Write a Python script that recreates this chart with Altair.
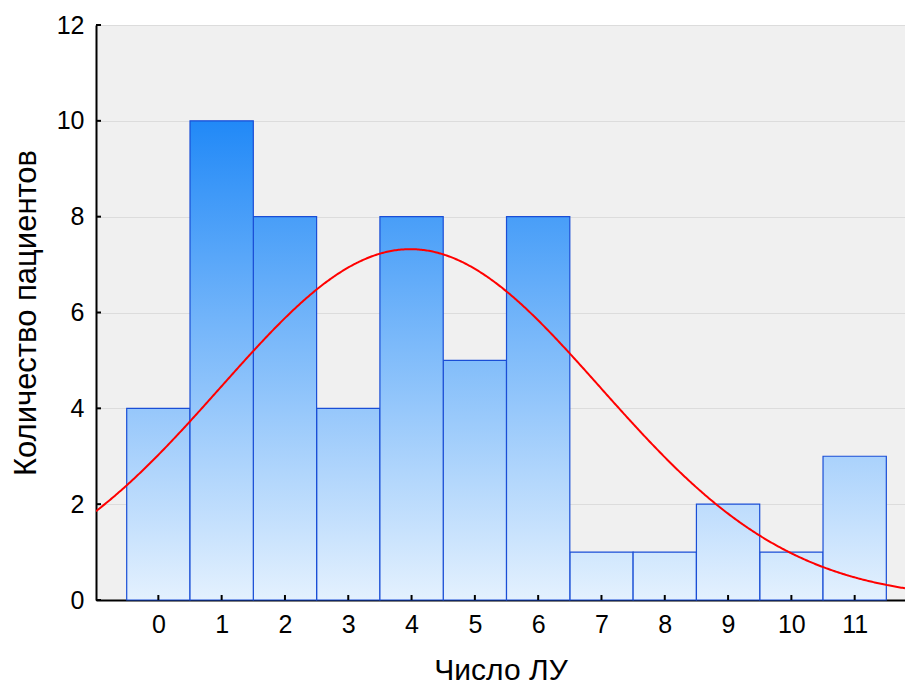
import altair as alt
import pandas as pd
import numpy as np

# Data
categories = [0, 1, 2, 3, 4, 5, 6, 7, 8, 9, 10, 11]
counts = [4, 10, 8, 4, 8, 5, 8, 1, 1, 2, 1, 3]
x_ticks = list(range(0, 12))
y_ticks = [0, 2, 4, 6, 8, 10, 12]

x_title = "Число ЛУ"
y_title = "Количество пациентов"

X_DOMAIN = [-0.985, 11.795]
Y_DOMAIN = [0, 12]
FONT = "Liberation Sans"

# fitted normal curve parameters from the data
cats = np.array(categories, dtype=float)
cnt = np.array(counts, dtype=float)
N = cnt.sum()
mu = float((cats * cnt).sum() / N)
sd = float(np.sqrt(((cats - mu) ** 2 * cnt).sum() / (N - 1)))

bars_df = pd.DataFrame({"cat": categories, "count": counts})

light = np.array([228, 241, 254])
dark = np.array([33, 137, 247])


def col_at(v):
    t = v / 10.0
    c = light + (dark - light) * t
    return "#%02x%02x%02x" % tuple(int(round(x)) for x in c)


x_scale = alt.Scale(domain=X_DOMAIN, nice=False, zero=False)
y_scale = alt.Scale(domain=Y_DOMAIN, nice=False)

x_axis = alt.Axis(values=x_ticks, title=x_title, grid=False, ticks=False,
                  labelFontSize=25, labelFont=FONT, labelColor="black",
                  labelPadding=12, titleFont=FONT, titleFontSize=30,
                  titleFontWeight="normal", titleColor="black",
                  titlePadding=18, domainColor="black", domainWidth=2,
                  labelFlush=False)
y_axis = alt.Axis(values=y_ticks, title=y_title, grid=True,
                  gridColor="#dcdcdc", gridWidth=1, ticks=False,
                  labelFontSize=25, labelFont=FONT, labelColor="black",
                  labelPadding=12, titleFont=FONT, titleFontSize=31,
                  titleFontWeight="normal", titleColor="black",
                  titlePadding=14, domainColor="black", domainWidth=2,
                  labelFlush=False)

layers = []
for v in sorted(set(counts)):
    grad = {
        "gradient": "linear",
        "x1": 0, "x2": 0, "y1": 0, "y2": 1,
        "stops": [
            {"offset": 0, "color": col_at(v)},
            {"offset": 1, "color": col_at(0)},
        ],
    }
    layer = (
        alt.Chart(bars_df)
        .transform_filter(alt.datum["count"] == v)
        .transform_calculate(x0="datum.cat - 0.5", x1="datum.cat + 0.5")
        .mark_rect(color=grad, stroke="#1a4ed6", strokeWidth=1.2)
        .encode(
            x=alt.X("x0:Q", scale=x_scale, axis=x_axis),
            x2="x1:Q",
            y=alt.Y("count:Q", scale=y_scale, axis=y_axis),
            y2=alt.datum(0),
        )
    )
    layers.append(layer)

curve = (
    alt.Chart(alt.sequence(X_DOMAIN[0], X_DOMAIN[1] + 0.001, 0.02, as_="xv"))
    .transform_calculate(
        yv=f"{N} / ({sd} * sqrt(2 * PI)) * exp(-pow(datum.xv - {mu}, 2) / (2 * {sd} * {sd}))"
    )
    .mark_line(color="#ff0000", strokeWidth=2, clip=True)
    .encode(x=alt.X("xv:Q", scale=x_scale, axis=x_axis),
            y=alt.Y("yv:Q", scale=y_scale, axis=y_axis))
)

tick_df_x = pd.DataFrame({"t": x_ticks})
tick_df_y = pd.DataFrame({"t": y_ticks})
xticks = (
    alt.Chart(tick_df_x)
    .mark_rule(color="black", strokeWidth=2)
    .encode(x=alt.X("t:Q", scale=x_scale, axis=x_axis), y=alt.value(570), y2=alt.value(575))
)
yticks = (
    alt.Chart(tick_df_y)
    .mark_rule(color="black", strokeWidth=2)
    .encode(y=alt.Y("t:Q", scale=y_scale, axis=y_axis), x=alt.value(0), x2=alt.value(5))
)

chart = (
    alt.layer(*layers, curve, xticks, yticks)
    .properties(
        width=809,
        height=575,
        padding={"left": 96, "top": 25, "right": 0, "bottom": 86},
        autosize="none",
        background="white",
    )
    .configure_view(fill="#f0f0f0", stroke=None)
)

chart.save("out.html", embed_options={"renderer": "svg", "actions": False})
